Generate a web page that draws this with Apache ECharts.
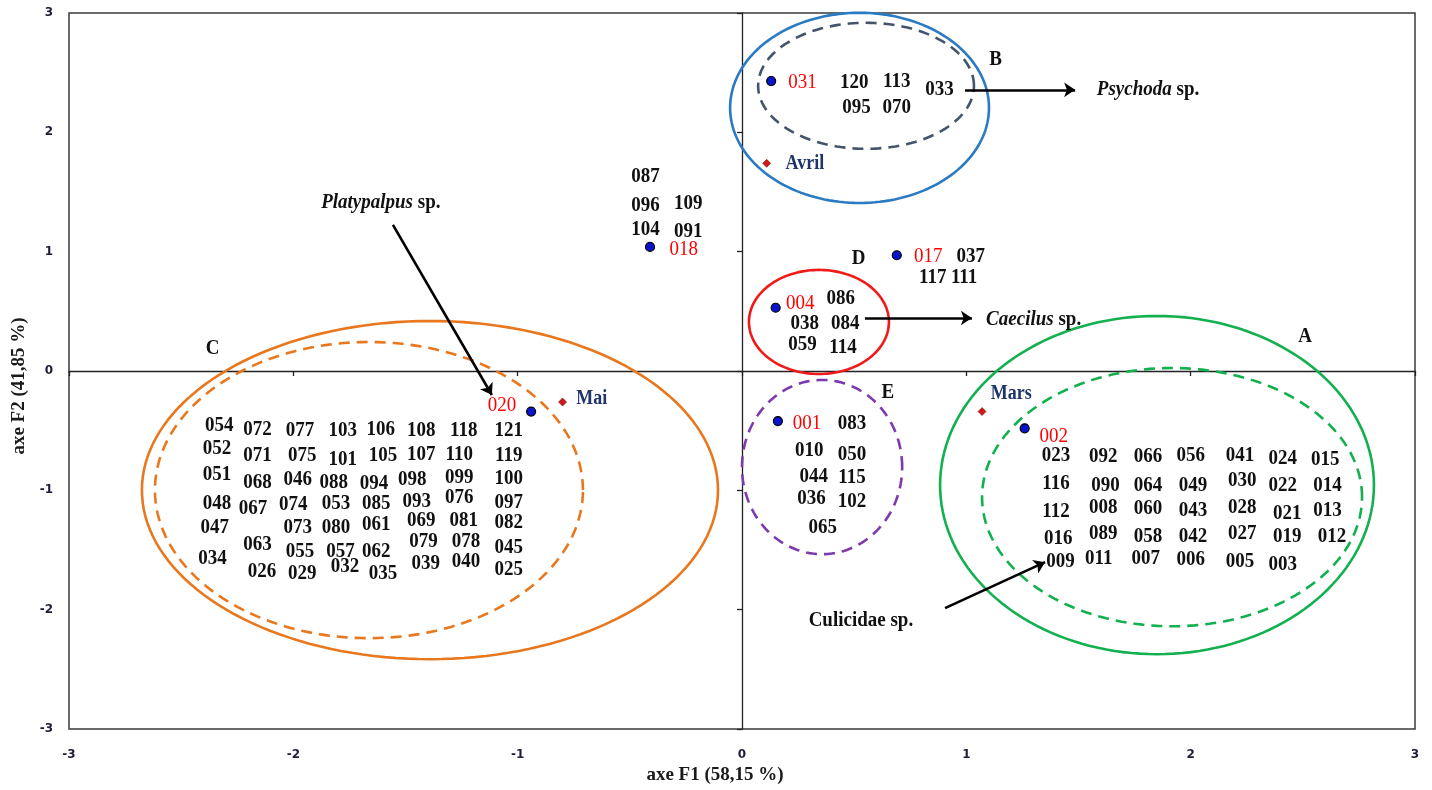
<!DOCTYPE html>
<html><head><meta charset="utf-8">
<script src="https://cdn.jsdelivr.net/npm/echarts@6/dist/echarts.min.js"></script>
<style>html,body{margin:0;padding:0;background:#fff}#c{width:1432px;height:790px}</style>
</head><body><div id="c"></div>
<script>
// ---------- DATA (values in axis units) ----------
const axisRange = [-3, 3];
const xAxisName = 'axe F1 (58,15 %)';
const yAxisName = 'axe F2 (41,85 %)';

// reference sites (blue dots) and their red codes
const siteDots = [[0.13,2.43],[-0.41,1.04],[0.69,0.97],[0.15,0.53],[0.16,-0.42],[1.26,-0.48],[-0.94,-0.34]];
const siteCodes = [[0.27,2.42,'031'],[-0.26,1.02,'018'],[0.83,0.96,'017'],[0.26,0.57,'004'],[0.29,-0.44,'001'],[1.39,-0.55,'002'],[-1.07,-0.29,'020']];

// months (red diamonds) and their names
const monthDots = [[0.11,1.74],[-0.80,-0.26],[1.07,-0.34]];
const monthNames = [[0.28,1.74,'Avril'],[-0.67,-0.23,'Mai'],[1.20,-0.19,'Mars']];

// group letters
const groupLetters = [[2.51,0.29,'A'],[1.13,2.61,'B'],[-2.36,0.19,'C'],[0.52,0.94,'D'],[0.65,-0.18,'E']];

// species codes per group
const codesA = [
 [1.40,-0.71,'023'],[1.61,-0.72,'092'],[1.81,-0.72,'066'],[2.00,-0.71,'056'],[2.22,-0.71,'041'],[2.41,-0.73,'024'],[2.60,-0.74,'015'],
 [1.40,-0.94,'116'],[1.62,-0.96,'090'],[1.81,-0.96,'064'],[2.01,-0.96,'049'],[2.23,-0.92,'030'],[2.41,-0.96,'022'],[2.61,-0.96,'014'],
 [1.40,-1.18,'112'],[1.61,-1.14,'008'],[1.81,-1.15,'060'],[2.01,-1.17,'043'],[2.23,-1.14,'028'],[2.43,-1.19,'021'],[2.61,-1.17,'013'],
 [1.41,-1.40,'016'],[1.61,-1.36,'089'],[1.81,-1.39,'058'],[2.01,-1.39,'042'],[2.23,-1.36,'027'],[2.43,-1.39,'019'],[2.63,-1.39,'012'],
 [1.42,-1.60,'009'],[1.59,-1.57,'011'],[1.80,-1.57,'007'],[2.00,-1.58,'006'],[2.22,-1.60,'005'],[2.41,-1.62,'003']
];
const codesB = [[0.50,2.42,'120'],[0.69,2.43,'113'],[0.88,2.36,'033'],[0.51,2.21,'095'],[0.69,2.21,'070']];
const codesC = [
 [-2.33,-0.46,'054'],[-2.16,-0.49,'072'],[-1.97,-0.50,'077'],[-1.78,-0.50,'103'],[-1.61,-0.49,'106'],[-1.43,-0.50,'108'],[-1.24,-0.50,'118'],[-1.04,-0.50,'121'],
 [-2.34,-0.65,'052'],[-2.16,-0.71,'071'],[-1.96,-0.71,'075'],[-1.78,-0.74,'101'],[-1.60,-0.71,'105'],[-1.43,-0.70,'107'],[-1.26,-0.70,'110'],[-1.04,-0.71,'119'],
 [-2.34,-0.87,'051'],[-2.16,-0.93,'068'],[-1.98,-0.91,'046'],[-1.82,-0.93,'088'],[-1.64,-0.94,'094'],[-1.47,-0.91,'098'],[-1.26,-0.89,'099'],[-1.04,-0.90,'100'],
 [-2.34,-1.11,'048'],[-2.18,-1.15,'067'],[-2.00,-1.12,'074'],[-1.81,-1.11,'053'],[-1.63,-1.11,'085'],[-1.45,-1.09,'093'],[-1.26,-1.06,'076'],[-1.04,-1.10,'097'],
 [-2.35,-1.31,'047'],[-1.98,-1.31,'073'],[-1.81,-1.31,'080'],[-1.63,-1.29,'061'],[-1.43,-1.25,'069'],[-1.24,-1.25,'081'],[-1.04,-1.27,'082'],
 [-2.16,-1.45,'063'],[-1.97,-1.51,'055'],[-1.79,-1.51,'057'],[-1.63,-1.51,'062'],[-1.42,-1.43,'079'],[-1.23,-1.43,'078'],[-1.04,-1.48,'045'],
 [-2.36,-1.57,'034'],[-2.14,-1.68,'026'],[-1.96,-1.70,'029'],[-1.77,-1.64,'032'],[-1.60,-1.70,'035'],[-1.41,-1.61,'039'],[-1.23,-1.60,'040'],[-1.04,-1.66,'025']
];
const codesD = [[1.02,0.96,'037'],[0.85,0.78,'117'],[0.99,0.78,'111'],[0.44,0.61,'086'],[0.28,0.40,'038'],[0.46,0.40,'084'],[0.27,0.22,'059'],[0.45,0.20,'114']];
const codesE = [[0.49,-0.44,'083'],[0.30,-0.67,'010'],[0.49,-0.70,'050'],[0.32,-0.88,'044'],[0.49,-0.89,'115'],[0.31,-1.07,'036'],[0.49,-1.09,'102'],[0.36,-1.31,'065']];
const codesF = [[-0.43,1.63,'087'],[-0.43,1.39,'096'],[-0.24,1.40,'109'],[-0.43,1.19,'104'],[-0.24,1.17,'091']];

// group envelopes: centre and semi-axes, in axis units
const envelopes = [
 {id:'A_out', cx:1.85, cy:-0.956, rx:0.967, ry:1.417},
 {id:'A_in',  cx:1.917,cy:-1.057, rx:0.847, ry:1.082},
 {id:'B_out', cx:0.524,cy:2.205,  rx:0.577, ry:0.797},
 {id:'B_in',  cx:0.553,cy:2.390,  rx:0.481, ry:0.528},
 {id:'C_out', cx:-1.391,cy:-0.998,rx:1.284, ry:1.417},
 {id:'C_in',  cx:-1.663,cy:-0.998,rx:0.954, ry:1.241},
 {id:'D',     cx:0.343,cy:0.411,  rx:0.312, ry:0.436},
 {id:'E',     cx:0.357,cy:-0.805, rx:0.357, ry:0.730}
];

// indicator species: text and arrow
const speciesNames = [[1.81,2.36,'Psychoda',true],[1.30,0.43,'Caecilus',true],[-1.61,1.41,'Platypalpus',true],[0.53,-2.09,'Culicidae',false]];
const arrows = [
 [[0.994,2.356],[1.485,2.356]],
 [[0.548,0.444],[1.025,0.444]],
 [[-1.556,1.224],[-1.115,-0.201]],
 [[0.905,-1.987],[1.351,-1.602]]
];

// ---------- STYLES ----------
const envStyle = {
 A_out:{c:'#12B04F',dash:null}, A_in:{c:'#12B04F',dash:[11,7]},
 B_out:{c:'#2B7BC3',dash:null}, B_in:{c:'#44546A',dash:[11,7]},
 C_out:{c:'#E8771E',dash:null}, C_in:{c:'#E8771E',dash:[11,7]},
 D:{c:'#F01A1A',dash:null}, E:{c:'#7D3AAE',dash:[11,7]}
};
const SERIF = '"Liberation Serif","Times New Roman",serif';
const SY = 1.13;

function textSeries(arr, fill, weight, size, z){
  return {
    type:'custom', coordinateSystem:'cartesian2d', silent:true, clip:false, z:z||5,
    data: arr.map(d=>[d[0],d[1]]),
    renderItem: function(params, api){
      const d = arr[params.dataIndex];
      const p = api.coord([d[0], d[1]]);
      return {type:'text', x:p[0], y:p[1], scaleY:SY,
        style:{text:d[2], fill:fill, font: weight+' '+size+'px '+SERIF, align:'center', verticalAlign:'middle'}};
    }
  };
}

const allCodes = [].concat(codesA, codesB, codesC, codesD, codesE, codesF);

const option = {
  animation:false,
  backgroundColor:'#fff',
  grid:{left:69, right:17, top:13, bottom:61, show:true, borderColor:'#3a3a3a', borderWidth:1.5, backgroundColor:'transparent'},
  xAxis:[
    {type:'value', min:axisRange[0], max:axisRange[1], interval:1, position:'bottom',
     axisLine:{show:true, onZero:true, onZeroAxisIndex:0, lineStyle:{color:'#222', width:1.3}},
     axisTick:{show:true, length:5, lineStyle:{color:'#222', width:1.3}},
     axisLabel:{show:false}, splitLine:{show:false}},
    {type:'value', min:axisRange[0], max:axisRange[1], interval:1, position:'bottom',
     axisLine:{show:false, onZero:false}, axisTick:{show:false}, splitLine:{show:false},
     axisLabel:{show:true, margin:20, color:'#1c1c38', fontFamily:'DejaVu Sans', fontWeight:'bold', fontSize:12},
     name:xAxisName, nameLocation:'middle', nameGap:36,
     nameTextStyle:{fontFamily:SERIF, fontWeight:'bold', fontSize:19, color:'#1a1a1a', padding:[0,54,0,0]}}
  ],
  yAxis:[
    {type:'value', min:axisRange[0], max:axisRange[1], interval:1, position:'left',
     axisLine:{show:true, onZero:true, onZeroAxisIndex:0, lineStyle:{color:'#222', width:1.3}},
     axisTick:{show:true, length:5, lineStyle:{color:'#222', width:1.3}},
     axisLabel:{show:false}, splitLine:{show:false}},
    {type:'value', min:axisRange[0], max:axisRange[1], interval:1, position:'left',
     axisLine:{show:false, onZero:false}, axisTick:{show:false}, splitLine:{show:false},
     axisLabel:{show:true, margin:16, color:'#1c1c38', fontFamily:'DejaVu Sans', fontWeight:'bold', fontSize:12},
     name:yAxisName, nameLocation:'middle', nameGap:40,
     nameTextStyle:{fontFamily:SERIF, fontWeight:'bold', fontSize:19, color:'#1a1a1a', padding:[0,30,0,0]}}
  ],
  series:[
    {type:'custom', coordinateSystem:'cartesian2d', silent:true, clip:false, z:2,
     data: envelopes.map(e=>[e.cx,e.cy]),
     renderItem:function(params, api){
       const e = envelopes[params.dataIndex];
       const st = envStyle[e.id];
       const pts = [];
       const N = 160;
       for(let i=0;i<N;i++){
         const t = i/N*Math.PI*2;
         pts.push(api.coord([e.cx + e.rx*Math.cos(t), e.cy + e.ry*Math.sin(t)]));
       }
       return {type:'polygon', shape:{points:pts},
         style:{fill:'none', stroke:st.c, lineWidth:2.6, lineDash:st.dash||null}};
     }},
    {type:'lines', coordinateSystem:'cartesian2d', silent:true, z:3,
     symbol:['none','arrow'], symbolSize:[0,11],
     lineStyle:{color:'#000', width:2.6, opacity:1},
     data: arrows.map(a=>({coords:a}))},
    {type:'scatter', silent:true, z:4, symbol:'circle', symbolSize:9,
     itemStyle:{color:'#0A14C8', borderColor:'#000', borderWidth:1.2, opacity:1},
     data: siteDots},
    {type:'scatter', silent:true, z:4, symbol:'diamond', symbolSize:8,
     itemStyle:{color:'#D01818', borderColor:'#7a1010', borderWidth:0.6, opacity:1},
     data: monthDots},
    textSeries(allCodes, '#111', 'bold', 19),
    textSeries(siteCodes, '#FF0000', 'normal', 19),
    textSeries(monthNames, '#1F3568', 'bold', 18),
    textSeries(groupLetters, '#111', 'bold', 19),
    {type:'custom', coordinateSystem:'cartesian2d', silent:true, clip:false, z:5,
     data: speciesNames.map(d=>[d[0],d[1]]),
     renderItem:function(params, api){
       const d = speciesNames[params.dataIndex];
       const p = api.coord([d[0], d[1]]);
       const txt = d[3] ? '{i|'+d[2]+'}{n| sp.}' : '{n|'+d[2]+' sp.}';
       return {type:'text', x:p[0], y:p[1], scaleY:SY,
         style:{text:txt, align:'center', verticalAlign:'middle',
           rich:{
             i:{fontFamily:SERIF, fontStyle:'italic', fontWeight:'bold', fontSize:19, fill:'#111'},
             n:{fontFamily:SERIF, fontWeight:'bold', fontSize:19, fill:'#111'}
           }}};
     }}
  ]
};
const chart = echarts.init(document.getElementById('c'), null, {renderer:'canvas'});
chart.setOption(option);
</script></body></html>
